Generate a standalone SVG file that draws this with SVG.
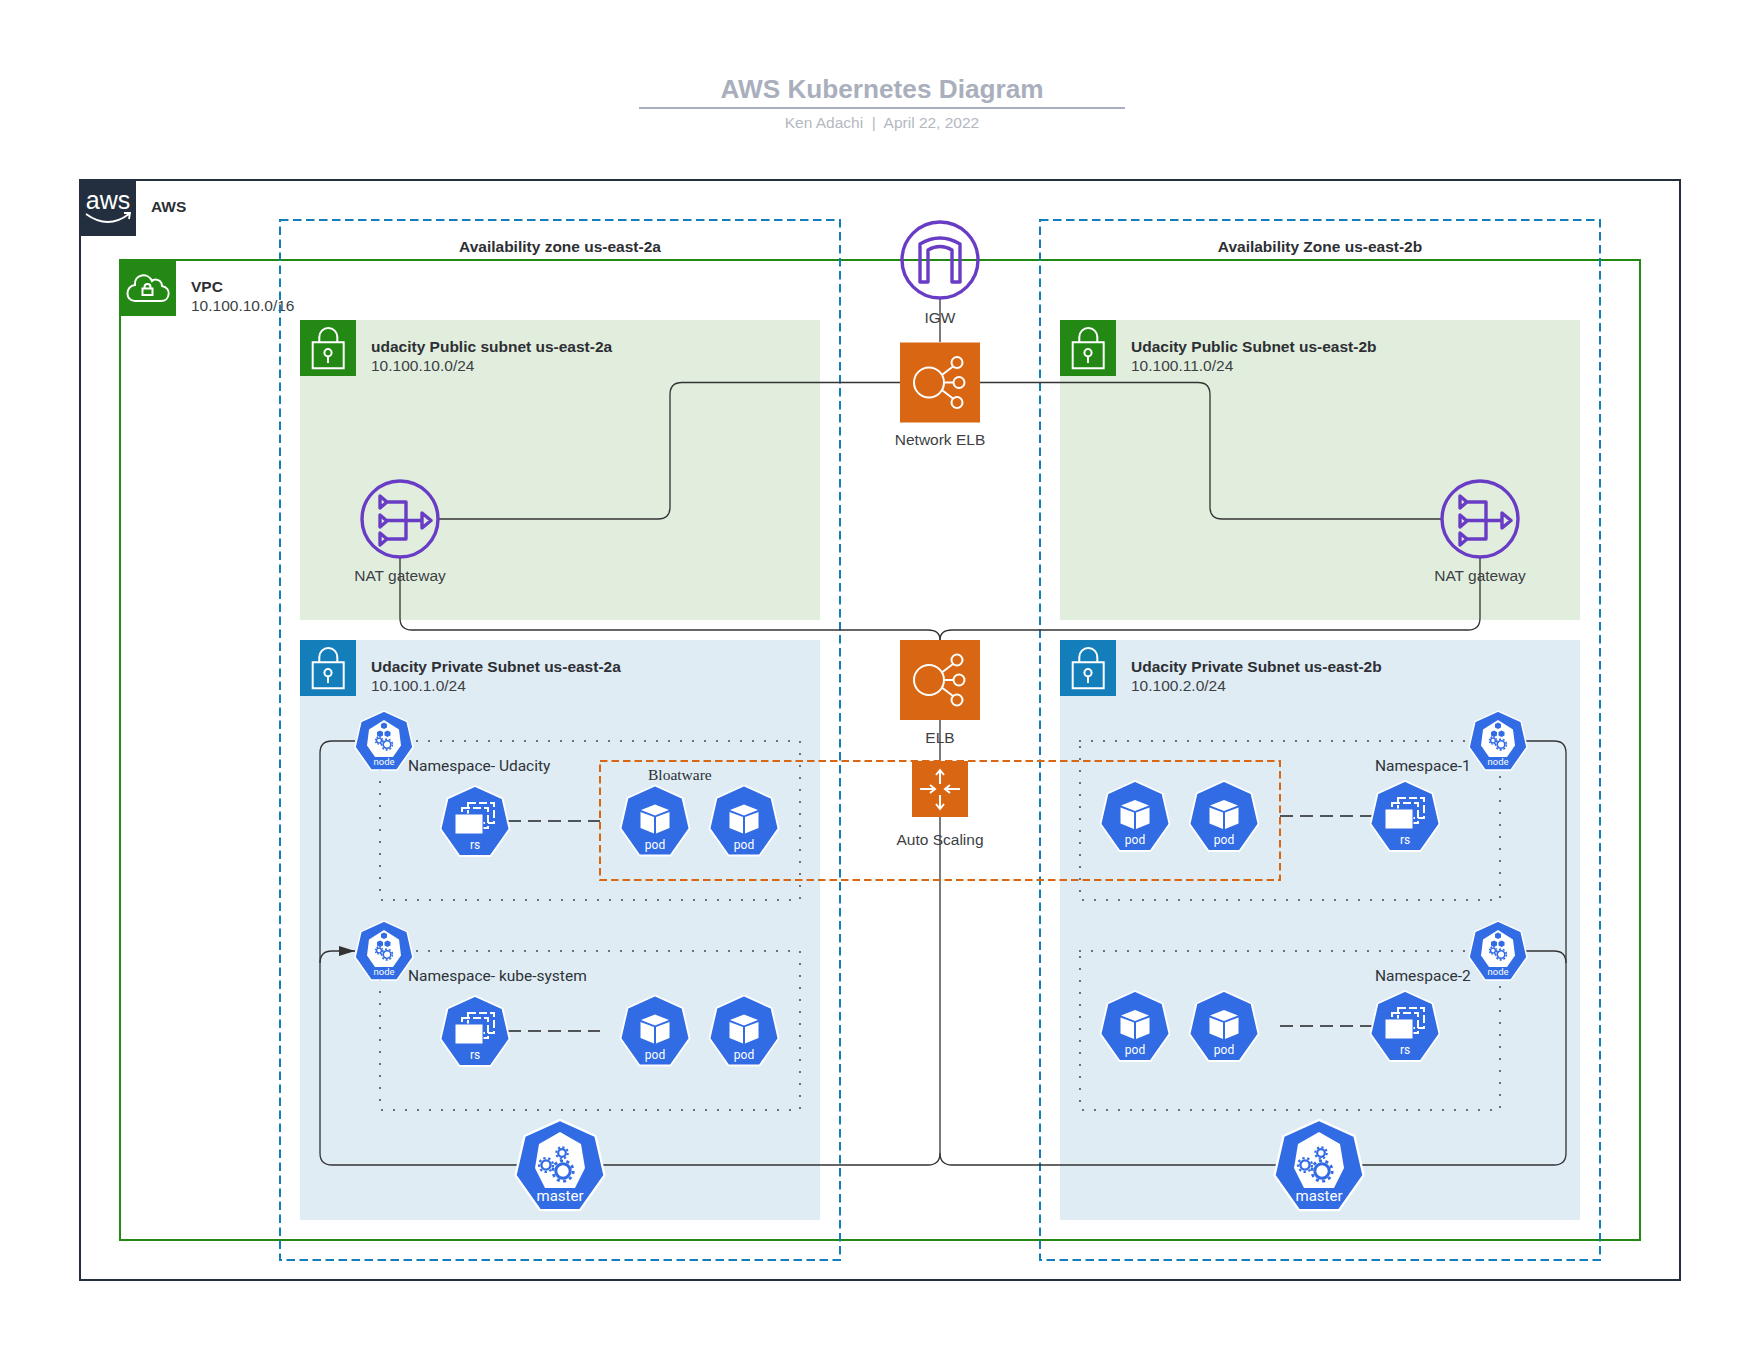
<svg xmlns="http://www.w3.org/2000/svg" xmlns:xlink="http://www.w3.org/1999/xlink" width="1760" height="1360" viewBox="0 0 1760 1360">
<style>
text{font-family:"Liberation Sans",Arial,sans-serif;fill:#333e48;font-size:15.5px}
.b{font-weight:700;fill:#2d2f33}
.r{fill:#3d3f44}
.m{text-anchor:middle;font-size:15.5px}
.ns{font-family:Roboto,"Liberation Sans",sans-serif;font-size:15.5px;fill:#2e3338}
.k{font-family:Roboto,"Liberation Sans",sans-serif;text-anchor:middle;fill:#fff;font-size:12px}
.az{fill:none;stroke:#147eba;stroke-width:2;stroke-dasharray:8.500 4.500}
.dot{fill:none;stroke:#555;stroke-width:2.200;stroke-linecap:round;stroke-dasharray:0 12}
.c{fill:none;stroke:#333;stroke-width:1.300}
.d{fill:none;stroke:#222;stroke-width:1.400;stroke-dasharray:13 7}
.pur{fill:none;stroke:#693cc5;stroke-width:3.400;stroke-linejoin:round}
.w{fill:none;stroke:#fff;stroke-width:2}
.hx{fill:#326ce5;stroke:#fff;stroke-width:1.800;stroke-linejoin:round}
.gb{fill:none;stroke:#326ce5}
</style>
<defs>
<marker id="arr" markerUnits="userSpaceOnUse" markerWidth="16" markerHeight="12" refX="16" refY="6" orient="auto"><path d="M0,1L16,6L0,11Z" fill="#333"/></marker>
<path id="hep" d="M0,-35L27.500,-22.500L34.500,8L15.500,35L-15.500,35L-34.500,8L-27.500,-22.500Z"/>
<g id="lock"><path class="w" d="M12.700,22.300H43.700V48.300H12.700ZM19.300,22V17A9,9 0 0 1 37.300,17V22M28,36.500V43"/><circle class="w" cx="28" cy="32.700" r="3.600"/></g>
<g id="pod-i"><use href="#hep" class="hx"/><path fill="#fff" d="M0,-16L14,-10.500L0,-5L-14,-10.500ZM-14.500,-8.500L-1,-3.500V13L-14.500,7.500ZM14.500,-8.500L1,-3.500V13L14.500,7.500Z"/></g>
<g id="rs-i"><use href="#hep" class="hx"/><rect x="-7" y="-18" width="26" height="20" fill="none" stroke="#fff" stroke-width="2" stroke-dasharray="8 3"/><rect x="-13" y="-13" width="26" height="20" fill="none" stroke="#fff" stroke-width="2" stroke-dasharray="8 3"/><rect x="-20" y="-7" width="28" height="20" fill="#fff" stroke="#326ce5" stroke-width="1"/></g>
<g id="node-i"><use href="#hep" class="hx" transform="scale(.84)"/><path fill="#fff" d="M0,-20.500L15,-11L17,5L9,16.500H-9L-17,5L-15,-11Z"/>
<path fill="#326ce5" d="M0,-18L3,-16.500V-13L0,-11.500L-3,-13V-16.500ZM-4,-10L-1,-8.500V-5L-4,-3.500L-7,-5V-8.500ZM3.500,-10L6.500,-8.500V-5L3.500,-3.500L.5,-5V-8.500Z"/>
<circle cx="-5" cy="0" r="2.400" class="gb" stroke-width="1.400"/><circle cx="-5" cy="0" r="3.600" class="gb" stroke-width="1.400" stroke-dasharray="1.600 1.200"/><circle cx="3" cy="4" r="3.800" class="gb" stroke-width="1.600"/><circle cx="3" cy="4" r="5.400" class="gb" stroke-width="1.600" stroke-dasharray="2 1.800"/></g>
<g id="master-i"><use href="#hep" class="hx" transform="scale(1.29)"/><path fill="#fff" d="M0,-33L21,-21L25,3L15,23H-15L-25,3L-21,-21Z"/>
<circle cx="2" cy="-12" r="3.800" class="gb" stroke-width="2.200"/><circle cx="2" cy="-12" r="5.800" class="gb" stroke-width="2" stroke-dasharray="2.200 2.300"/><circle cx="-14" cy="0" r="4.600" class="gb" stroke-width="2.400"/><circle cx="-14" cy="0" r="7" class="gb" stroke-width="2.200" stroke-dasharray="2.400 2.600"/><circle cx="3" cy="6" r="7.200" class="gb" stroke-width="3"/><circle cx="3" cy="6" r="10.200" class="gb" stroke-width="2.800" stroke-dasharray="3 3.400"/></g>
<g id="nat-i"><circle r="38" class="pur"/><path class="pur" d="M-20,-23L-13,-17L-20,-11ZM-20,-4L-13,2L-20,8ZM-20,14L-13,20L-20,26ZM-13,1.500H21M-13,-17H6V20H-13M22,-6L31,1.500L22,9Z"/></g>
<g id="elb-i"><rect x="-40" y="-40" width="80" height="80" fill="#d86613"/><g class="w"><circle cx="-11" cy="0" r="15"/><circle cx="17" cy="-20" r="5.500"/><circle cx="19" cy="0" r="5.500"/><circle cx="17" cy="20" r="5.500"/><path d="M2.500,-8L13,-16M4,0H13.500M2.500,8L13,16"/></g></g>
</defs>

<rect width="1760" height="1360" fill="#fff"/>

<g id="title">
<text x="882" y="98" text-anchor="middle" style="font-size:26.200px;font-weight:700;fill:#a9afbc">AWS Kubernetes Diagram</text>
<path d="M639,108H1125" stroke="#a9afbc" stroke-width="2"/>
<text x="882" y="128" text-anchor="middle" style="font-size:15.500px;fill:#b4b8c2;white-space:pre">Ken Adachi  |  April 22, 2022</text>
</g>

<g id="aws">
<rect x="80" y="180" width="1600" height="1100" fill="none" stroke="#232f3e" stroke-width="2"/>
<rect x="80" y="180" width="56" height="56" fill="#232f3e"/>
<text x="108" y="209" text-anchor="middle" style="font-size:25px;fill:#fff">aws</text>
<path d="M86,214Q108,230 129,214M124,213L130,213L129,219" fill="none" stroke="#fff" stroke-width="1.800"/>
<text x="151" y="212" class="b">AWS</text>
</g>

<g id="vpc">
<rect x="120" y="260" width="1520" height="980" fill="none" stroke="#248814" stroke-width="2"/>
<rect x="120" y="260" width="56" height="56" fill="#248814"/>
<path class="w" stroke-width="1.600" d="M135,301H161C170,301 172,288 162,286C162,280 155,278 152,281C148,272 134,274 135,285C125,286 125,301 135,301ZM142.500,288.500H152.500V295H142.500ZM144.500,288.500V287A3,3 0 0 1 150.500,287V288.500"/>
<text x="191" y="292" class="b">VPC</text>
<text x="191" y="311" class="r">10.100.10.0/16</text>
</g>

<g id="subnet-public-a">
<rect x="300" y="320" width="520" height="300" fill="#e1eede"/>
<rect x="300" y="320" width="56" height="56" fill="#248814"/><use href="#lock" x="300" y="320"/>
<text x="371" y="352" class="b">udacity Public subnet us-east-2a</text><text x="371" y="371" class="r">10.100.10.0/24</text>
</g>
<g id="subnet-public-b">
<rect x="1060" y="320" width="520" height="300" fill="#e1eede"/>
<rect x="1060" y="320" width="56" height="56" fill="#248814"/><use href="#lock" x="1060" y="320"/>
<text x="1131" y="352" class="b">Udacity Public Subnet us-east-2b</text><text x="1131" y="371" class="r">10.100.11.0/24</text>
</g>
<g id="subnet-private-a">
<rect x="300" y="640" width="520" height="580" fill="#dfecf4"/>
<rect x="300" y="640" width="56" height="56" fill="#147eba"/><use href="#lock" x="300" y="640"/>
<text x="371" y="672" class="b">Udacity Private Subnet us-east-2a</text><text x="371" y="691" class="r">10.100.1.0/24</text>
</g>
<g id="subnet-private-b">
<rect x="1060" y="640" width="520" height="580" fill="#dfecf4"/>
<rect x="1060" y="640" width="56" height="56" fill="#147eba"/><use href="#lock" x="1060" y="640"/>
<text x="1131" y="672" class="b">Udacity Private Subnet us-east-2b</text><text x="1131" y="691" class="r">10.100.2.0/24</text>
</g>

<g id="az-a"><rect x="280" y="220" width="560" height="1040" class="az"/><text x="560" y="252" text-anchor="middle" class="b">Availability zone us-east-2a</text></g>
<g id="az-b"><rect x="1040" y="220" width="560" height="1040" class="az"/><text x="1320" y="252" text-anchor="middle" class="b">Availability Zone us-east-2b</text></g>

<g id="namespaces">
<path class="dot" d="M381,741H800V900H380V741"/>
<path class="dot" d="M381,951H800V1110H380V951"/>
<path class="dot" d="M1080,741H1500V900H1080V741"/>
<path class="dot" d="M1080,951H1500V1110H1080V951"/>
<text x="408" y="771" class="ns">Namespace- Udacity</text>
<text x="408" y="981" class="ns">Namespace- kube-system</text>
<text x="1375" y="771" class="ns">Namespace-1</text>
<text x="1375" y="981" class="ns">Namespace-2</text>
</g>

<g id="connectors">
<path class="c" d="M940,299V342"/>
<path class="c" d="M900,382.500H682Q670,382.500 670,394.500V507Q670,519 658,519H439"/>
<path class="c" d="M980,382.500H1198Q1210,382.500 1210,394.500V507Q1210,519 1222,519H1441"/>
<path class="c" d="M400,557V618Q400,630 412,630H928Q940,630 940,640"/>
<path class="c" d="M1480,557V618Q1480,630 1468,630H952Q940,630 940,640"/>
<path class="c" d="M940,720V1153Q940,1165 928,1165H332Q320,1165 320,1153V753Q320,741 332,741H355"/>
<path class="c" d="M320,963Q320,951 332,951H355" marker-end="url(#arr)"/>
<path class="c" d="M940,1153Q940,1165 952,1165H1554Q1566,1165 1566,1153V753Q1566,741 1554,741H1526"/>
<path class="c" d="M1566,963Q1566,951 1554,951H1526"/>
<path class="d" d="M508,821H600"/>
<path class="d" d="M508,1031H600"/>
<path class="d" d="M1280,816H1372"/>
<path class="d" d="M1280,1026H1372"/>
</g>

<g id="igw"><circle cx="940" cy="260" r="38" class="pur"/><path class="pur" d="M920,282V244Q940,232 960,244V282H952V250Q940,243 928,250V282Z"/><text x="940" y="323" class="m r">IGW</text></g>
<g id="network-elb"><use href="#elb-i" x="940" y="382.500"/><text x="940" y="445" class="m r">Network ELB</text></g>
<g id="elb"><use href="#elb-i" x="940" y="680"/><text x="940" y="743" class="m r">ELB</text></g>
<g id="nat-a"><use href="#nat-i" x="400" y="519"/><text x="400" y="581" class="m r">NAT gateway</text></g>
<g id="nat-b"><use href="#nat-i" x="1480" y="519"/><text x="1480" y="581" class="m r">NAT gateway</text></g>

<g id="bloatware-group"><rect x="600" y="761" width="680" height="119" fill="none" stroke="#d86613" stroke-width="2" stroke-dasharray="7.500 4"/><text x="648" y="780" style="font-family:'Liberation Serif',serif;font-size:15.500px;fill:#2d2f33">Bloatware</text></g>

<g id="auto-scaling"><rect x="912" y="761" width="56" height="56" fill="#d86613"/><path class="w" d="M940,784V771M936,775L940,770L944,775M940,795V808M936,804L940,809L944,804M920,789H934M930,785L935,789L930,793M960,789H946M950,785L945,789L950,793"/><text x="940" y="845" class="m r">Auto Scaling</text></g>

<g id="node-a1" transform="translate(384,740.500)"><use href="#node-i"/><text y="24" class="k" style="font-size:9.500px">node</text></g>
<g id="node-a2" transform="translate(384,950.500)"><use href="#node-i"/><text y="24" class="k" style="font-size:9.500px">node</text></g>
<g id="node-b1" transform="translate(1498,740.500)"><use href="#node-i"/><text y="24" class="k" style="font-size:9.500px">node</text></g>
<g id="node-b2" transform="translate(1498,950.500)"><use href="#node-i"/><text y="24" class="k" style="font-size:9.500px">node</text></g>

<g id="rs-a1" transform="translate(475,821)"><use href="#rs-i"/><text y="28" class="k">rs</text></g>
<g id="pod-a1" transform="translate(655,820.500)"><use href="#pod-i"/><text y="28" class="k">pod</text></g>
<g id="pod-a2" transform="translate(744,820.500)"><use href="#pod-i"/><text y="28" class="k">pod</text></g>
<g id="rs-a2" transform="translate(475,1031)"><use href="#rs-i"/><text y="28" class="k">rs</text></g>
<g id="pod-a3" transform="translate(655,1030.500)"><use href="#pod-i"/><text y="28" class="k">pod</text></g>
<g id="pod-a4" transform="translate(744,1030.500)"><use href="#pod-i"/><text y="28" class="k">pod</text></g>
<g id="pod-b1" transform="translate(1135,816)"><use href="#pod-i"/><text y="28" class="k">pod</text></g>
<g id="pod-b2" transform="translate(1224,816)"><use href="#pod-i"/><text y="28" class="k">pod</text></g>
<g id="rs-b1" transform="translate(1405,816)"><use href="#rs-i"/><text y="28" class="k">rs</text></g>
<g id="pod-b3" transform="translate(1135,1026)"><use href="#pod-i"/><text y="28" class="k">pod</text></g>
<g id="pod-b4" transform="translate(1224,1026)"><use href="#pod-i"/><text y="28" class="k">pod</text></g>
<g id="rs-b2" transform="translate(1405,1026)"><use href="#rs-i"/><text y="28" class="k">rs</text></g>

<g id="master-a" transform="translate(560,1165)"><use href="#master-i"/><text y="36" class="k" style="font-size:15px">master</text></g>
<g id="master-b" transform="translate(1319,1165)"><use href="#master-i"/><text y="36" class="k" style="font-size:15px">master</text></g>
</svg>
